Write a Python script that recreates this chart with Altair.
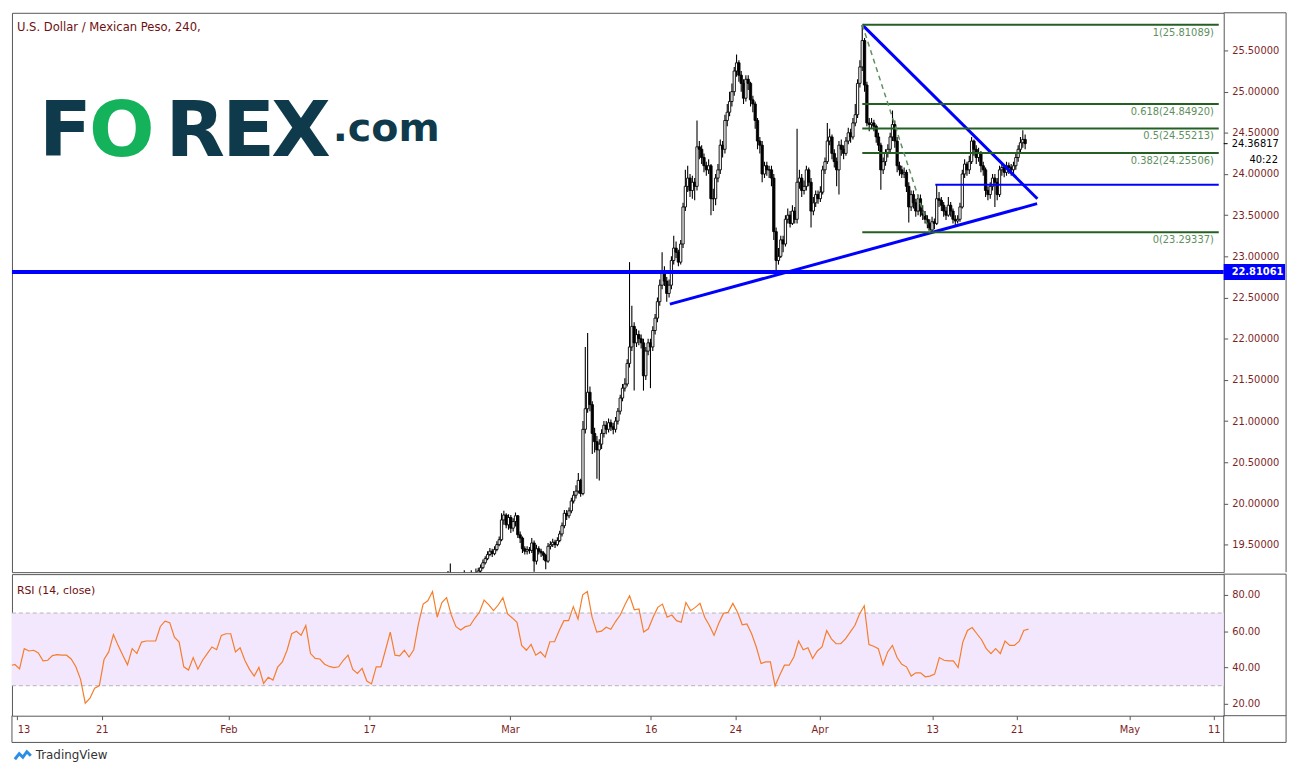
import altair as alt
import pandas as pd

# ---------------- data ----------------
# x unit = trading day, Jan 13 = 0 ; one candle = 4 hours = 1/6 day
first_bar_day = 29.5
bar_step_days = 1 / 6
first_open = 19.05
closes = [
    19.08, 19.05, 19.02, 19.06, 19.04, 19.08, 19.10, 19.06, 19.02, 19.05,
    19.03, 19.06, 19.08, 19.10, 19.06, 19.09, 19.12, 19.10, 19.14, 19.18,
    19.22, 19.28, 19.33, 19.38, 19.42, 19.39, 19.44, 19.50, 19.56, 19.80,
    19.86, 19.74, 19.83, 19.70, 19.78, 19.85, 19.62, 19.58, 19.45, 19.42,
    19.44, 19.43, 19.52, 19.30, 19.45, 19.42, 19.40, 19.37, 19.30, 19.48,
    19.50, 19.53, 19.50, 19.55, 19.63, 19.73, 19.88, 19.85, 19.91, 20.03,
    20.10, 20.15, 20.28, 20.12, 20.90, 21.15, 21.35, 21.20, 20.85, 20.75,
    20.65, 20.72, 20.85, 20.95, 20.90, 20.98, 20.93, 20.90, 21.00, 21.12,
    21.28, 21.40, 21.45, 21.70, 21.90, 22.15, 21.95, 22.05, 22.00, 21.95,
    21.55, 21.85, 21.95, 21.90, 22.10, 22.25, 22.45, 22.65, 22.80, 22.70,
    22.55, 22.65, 22.95, 23.10, 23.05, 22.93, 23.15, 23.60, 23.85, 23.95,
    23.80, 23.90, 23.85, 24.33, 24.30, 24.20, 24.10, 24.05, 24.10, 23.70,
    23.70, 23.95, 24.05, 24.35, 24.30, 24.65, 24.75, 24.88, 25.00, 25.25,
    25.35, 25.20, 25.10, 24.92, 25.15, 25.10, 24.90, 24.85, 24.65, 24.40,
    24.35, 24.00, 24.10, 24.05, 24.05, 23.95, 23.30, 22.95, 23.00, 23.20,
    23.15, 23.45, 23.50, 23.40, 23.55, 23.45, 23.90, 23.95, 23.80, 23.85,
    24.05, 23.90, 23.55, 23.65, 23.75, 23.70, 23.78, 24.05, 24.15, 24.40,
    24.45, 24.25, 24.15, 24.05, 24.35, 24.30, 24.25, 24.40, 24.50, 24.45,
    24.62, 24.72, 25.10, 25.30, 25.62, 25.08, 24.62, 24.60, 24.62, 24.58,
    24.45, 24.35, 24.05, 24.15, 24.25, 24.30, 24.45, 24.60, 24.40, 24.10,
    24.05, 24.00, 24.02, 23.85, 23.60, 23.75, 23.65, 23.55, 23.70, 23.55,
    23.50, 23.45, 23.40, 23.32, 23.42, 23.40, 23.70, 23.68, 23.62, 23.55,
    23.50, 23.62, 23.55, 23.45, 23.43, 23.45, 23.60, 24.00, 24.12, 24.05,
    24.15, 24.40, 24.30, 24.20, 24.25, 24.10, 24.05, 23.80, 23.75, 23.85,
    23.95, 23.90, 23.75, 24.05, 24.08, 24.02, 24.10, 24.08, 24.05, 24.10,
    24.20, 24.30, 24.38, 24.42, 24.36817,
]
highs = [
    19.12, 19.10, 19.08, 19.10, 19.09, 19.12, 19.18, 19.27, 19.09, 19.08,
    19.07, 19.10, 19.12, 19.19, 19.12, 19.13, 19.19, 19.15, 19.21, 19.22,
    19.26, 19.32, 19.36, 19.42, 19.46, 19.45, 19.48, 19.54, 19.60, 19.88,
    19.91, 19.88, 19.87, 19.86, 19.82, 19.89, 19.86, 19.66, 19.60, 19.48,
    19.48, 19.47, 19.58, 19.55, 19.50, 19.48, 19.45, 19.42, 19.39, 19.52,
    19.54, 19.57, 19.56, 19.59, 19.67, 19.77, 19.92, 19.92, 19.95, 20.07,
    20.15, 20.22, 20.37, 20.30, 21.00, 21.90, 22.07, 21.42, 21.24, 20.92,
    20.82, 20.78, 20.90, 21.00, 21.00, 21.03, 21.02, 20.98, 21.05, 21.16,
    21.32, 21.45, 21.52, 21.75, 22.93, 22.40, 22.20, 22.12, 22.10, 22.05,
    22.00, 21.90, 22.00, 22.00, 22.15, 22.30, 22.50, 22.72, 23.05, 22.88,
    22.75, 22.72, 23.00, 23.25, 23.18, 23.08, 23.20, 23.65, 24.05, 24.10,
    24.00, 23.98, 23.95, 24.65, 24.40, 24.35, 24.25, 24.15, 24.18, 24.12,
    23.82, 24.00, 24.12, 24.42, 24.40, 24.72, 24.85, 25.00, 25.10, 25.30,
    25.45, 25.38, 25.25, 25.15, 25.20, 25.20, 25.12, 24.95, 24.88, 24.68,
    24.45, 24.40, 24.15, 24.15, 24.10, 24.10, 24.00, 23.35, 23.10, 23.25,
    23.25, 23.50, 23.58, 23.55, 23.62, 23.60, 24.55, 24.05, 24.00, 23.92,
    24.10, 24.08, 23.95, 23.72, 23.80, 23.80, 23.85, 24.10, 24.20, 24.62,
    24.55, 24.48, 24.30, 24.20, 24.40, 24.42, 24.35, 24.45, 24.56, 24.55,
    24.68, 24.85, 25.15, 25.38, 25.81, 25.65, 25.12, 24.68, 24.68, 24.66,
    24.60, 24.50, 24.38, 24.20, 24.30, 24.36, 24.50, 24.77, 24.65, 24.45,
    24.15, 24.10, 24.08, 24.05, 23.90, 23.80, 23.80, 23.70, 23.75, 23.75,
    23.62, 23.55, 23.50, 23.45, 23.48, 23.46, 23.87, 23.78, 23.72, 23.66,
    23.60, 23.72, 23.66, 23.58, 23.50, 23.50, 23.65, 24.05, 24.18, 24.15,
    24.22, 24.45, 24.42, 24.35, 24.32, 24.28, 24.15, 24.08, 23.85, 23.90,
    24.00, 24.00, 23.95, 24.10, 24.14, 24.12, 24.15, 24.14, 24.12, 24.15,
    24.25, 24.35, 24.45, 24.53, 24.48,
]
lows = [
    19.02, 19.00, 18.98, 19.00, 19.00, 19.02, 19.05, 19.04, 18.98, 19.00,
    18.99, 19.01, 19.03, 19.05, 19.03, 19.04, 19.07, 19.06, 19.08, 19.12,
    19.15, 19.20, 19.26, 19.31, 19.36, 19.35, 19.37, 19.42, 19.48, 19.54,
    19.74, 19.70, 19.68, 19.64, 19.66, 19.72, 19.58, 19.52, 19.40, 19.38,
    19.38, 19.39, 19.40, 19.17, 19.26, 19.38, 19.35, 19.31, 19.20, 19.28,
    19.44, 19.47, 19.46, 19.48, 19.53, 19.60, 19.70, 19.80, 19.82, 19.88,
    20.00, 20.06, 20.12, 20.08, 20.10, 20.85, 21.10, 21.12, 20.60, 20.62,
    20.30, 20.28, 20.66, 20.80, 20.84, 20.86, 20.88, 20.84, 20.86, 20.96,
    21.08, 21.24, 21.36, 21.42, 21.65, 21.85, 21.37, 21.90, 21.92, 21.88,
    21.37, 21.50, 21.80, 21.40, 21.85, 22.05, 22.20, 22.40, 22.60, 22.64,
    22.45, 22.50, 22.60, 22.90, 22.98, 22.88, 22.90, 23.10, 23.55, 23.78,
    23.72, 23.70, 23.68, 23.80, 24.18, 24.12, 24.02, 23.98, 24.00, 23.50,
    23.55, 23.62, 23.90, 24.00, 24.20, 24.25, 24.58, 24.70, 24.82, 24.95,
    25.18, 25.12, 25.00, 24.85, 24.88, 25.02, 24.82, 24.75, 24.55, 24.30,
    24.25, 23.90, 23.95, 23.98, 23.95, 23.85, 23.20, 22.83, 22.90, 22.98,
    23.05, 23.12, 23.40, 23.35, 23.38, 23.40, 23.40, 23.82, 23.72, 23.75,
    23.80, 23.85, 23.35, 23.50, 23.60, 23.64, 23.66, 23.75, 24.00, 24.12,
    24.35, 24.18, 24.08, 23.85, 23.75, 24.22, 24.18, 24.22, 24.36, 24.38,
    24.42, 24.58, 24.68, 25.05, 25.25, 25.00, 24.58, 24.52, 24.55, 24.52,
    24.38, 24.28, 23.81, 24.00, 24.10, 24.20, 24.25, 24.40, 24.32, 24.02,
    23.98, 23.95, 23.95, 23.78, 23.41, 23.55, 23.58, 23.48, 23.50, 23.48,
    23.44, 23.40, 23.34, 23.29, 23.30, 23.33, 23.38, 23.60, 23.55, 23.48,
    23.44, 23.48, 23.48, 23.40, 23.38, 23.40, 23.42, 23.58, 23.95, 23.98,
    24.00, 24.12, 24.22, 24.12, 24.15, 24.02, 23.98, 23.72, 23.68, 23.70,
    23.80, 23.60, 23.68, 23.72, 23.98, 23.96, 23.98, 24.00, 23.98, 24.00,
    24.05, 24.15, 24.25, 24.32, 24.30,
]

# RSI(14, close), one reading every 8 hours
rsi_first_day = -0.5
rsi_step_days = 1 / 3
rsi_values = [
    41.0, 41.7, 39.3, 50.4, 49.1, 49.5, 48.0, 43.7, 44.0, 46.6,
    47.1, 46.8, 46.8, 44.7, 40.4, 33.5, 20.4, 23.1, 28.6, 29.9,
    44.4, 48.6, 58.2, 52.2, 46.8, 41.5, 50.4, 47.7, 54.0, 54.6,
    54.6, 54.6, 62.6, 65.5, 64.7, 56.7, 54.0, 40.4, 38.6, 45.5,
    39.1, 44.0, 47.7, 51.3, 49.8, 57.7, 58.6, 58.6, 48.6, 50.9,
    44.0, 39.0, 35.3, 40.1, 31.3, 34.6, 33.1, 40.2, 43.1, 49.5,
    58.6, 60.0, 57.7, 63.1, 47.7, 45.0, 44.7, 41.8, 40.6, 40.0,
    40.4, 44.0, 46.8, 39.0, 36.8, 39.5, 32.6, 31.0, 40.4, 40.4,
    49.8, 59.5, 46.8, 46.4, 49.5, 45.8, 49.8, 64.0, 74.9, 76.7,
    81.8, 67.7, 75.8, 78.5, 68.9, 62.5, 60.7, 62.5, 63.1, 67.1,
    70.4, 77.1, 74.5, 71.3, 74.4, 78.5, 69.5, 67.3, 64.9, 52.2,
    49.5, 52.7, 46.8, 48.6, 45.7, 54.2, 54.2, 60.4, 65.8, 65.8,
    73.5, 66.7, 80.0, 81.8, 67.7, 59.5, 60.0, 62.2, 61.1, 65.3,
    68.9, 74.5, 79.5, 71.8, 72.2, 59.5, 61.3, 67.7, 73.1, 74.9,
    67.7, 68.9, 65.8, 64.9, 75.8, 71.3, 73.1, 75.3, 67.7, 63.1,
    57.7, 64.4, 69.8, 70.4, 75.3, 70.4, 63.5, 64.0, 58.6, 51.3,
    42.2, 43.1, 43.1, 29.9, 35.9, 41.3, 41.3, 45.8, 54.6, 49.8,
    50.9, 45.0, 49.1, 51.3, 60.4, 55.8, 53.1, 53.1, 55.8, 59.5,
    63.1, 69.5, 74.0, 52.7, 51.7, 50.4, 41.5, 48.6, 52.2, 45.5,
    41.8, 40.4, 35.3, 37.1, 37.1, 34.9, 35.3, 36.4, 45.5, 44.0,
    43.7, 43.7, 40.0, 54.0, 60.4, 62.0, 58.6, 55.3, 50.4, 47.7,
    50.4, 47.7, 54.6, 52.2, 52.2, 54.4, 60.4, 61.1,
]

tick_days = [0, 6, 15, 25, 35, 45, 51, 57, 65, 71, 79, 85]
tick_labels = ["13", "21", "Feb", "17", "Mar", "16", "24", "Apr", "13", "21", "May", "11"]
price_ticks = [19.5, 20.0, 20.5, 21.0, 21.5, 22.0, 22.5, 23.0, 23.5, 24.0, 24.5, 25.0, 25.5]
rsi_ticks = [20, 40, 60, 80]
rsi_band = [30, 70]

support_price = 22.81061
fib_names = ["1", "0.618", "0.5", "0.382", "0"]
fib_prices = [25.81089, 24.84920, 24.55213, 24.25506, 23.29337]
fib_days = [60.17, 85.7]
swing_days = [60.17, 65.0]
swing_prices = [25.81089, 23.29337]
falling_days = [60.17, 72.71]
falling_prices = [25.81089, 23.70]
rising_days = [46.39, 72.69]
rising_prices = [22.42, 23.64]
range_days = [65.4, 85.7]
range_price = 23.869
last_price = closes[-1]
countdown = "40:22"

# ---------------- styling / layout ----------------
W, HP, HR, AXH, RW = 1224, 565, 143, 27, 63
X_DOM = [-0.373, 85.7]
YP_DOM = [19.166, 25.957]
YR_DOM = [13.5, 91.4]
FONT = "DejaVu Sans"
MAROON = "#7d1f1f"
FRAME = "#555555"
BLUE = "#0000ff"
FIB = "#246024"
FIB_TEXT = "#5e8f5e"
RSI_COLOR = "#f57d2c"
BAND = "#f3e7fd"

xs = alt.Scale(domain=X_DOM, nice=False, zero=False)
yps = alt.Scale(domain=YP_DOM, nice=False, zero=False)
yrs = alt.Scale(domain=YR_DOM, nice=False, zero=False)

n = len(closes)
candles = pd.DataFrame({
    "day": [first_bar_day + i * bar_step_days for i in range(n)],
    "open": [first_open] + closes[:-1],
    "high": highs,
    "low": lows,
    "close": closes,
})
rsi_df = pd.DataFrame({
    "day": [rsi_first_day + i * rsi_step_days for i in range(len(rsi_values))],
    "rsi": rsi_values,
})
trend_df = pd.DataFrame({
    "line": ["falling", "falling", "rising", "rising"],
    "day": falling_days + rising_days,
    "price": falling_prices + rising_prices,
})
swing_df = pd.DataFrame({"day": swing_days, "price": swing_prices})
fib_df = pd.DataFrame({
    "price": fib_prices,
    "start": [fib_days[0]] * len(fib_prices),
    "end": [fib_days[1]] * len(fib_prices),
    "label": [f"{nm}({p:.5f})" for nm, p in zip(fib_names, fib_prices)],
})
range_df = pd.DataFrame({"start": [range_days[0]], "end": [range_days[1]], "price": [range_price]})
one = pd.DataFrame({"one": [1]})

price_axis = alt.Axis(orient="right", values=price_ticks, format=".5f", domain=False, grid=False,
                      tickSize=4, tickColor=FRAME, labelColor=MAROON, labelFontSize=10,
                      labelPadding=4, title=None, labelOverlap=False, labelFont=FONT)


def py(field):
    return alt.Y(field, scale=yps, axis=price_axis, title=None)


def px(field):
    return alt.X(field, scale=xs, axis=None, title=None)


wicks = alt.Chart(candles).mark_rule(color="black", strokeWidth=1.1, clip=True).encode(
    x=px("day:Q"), y=py("low:Q"), y2="high:Q")
bodies = alt.Chart(candles).mark_bar(size=2.3, stroke="black", strokeWidth=0.9, clip=True).encode(
    x=px("day:Q"), y=py("open:Q"), y2="close:Q",
    fill=alt.condition("datum.close >= datum.open", alt.value("white"), alt.value("black")),
)
sup_df = pd.DataFrame({"price": [support_price]})
support = alt.Chart(sup_df).mark_rule(color=BLUE, strokeWidth=4).encode(
    y=py("price:Q"), x=alt.value(0), x2=alt.value(W))
support_box = alt.Chart(sup_df).mark_rule(color=BLUE, strokeWidth=16).encode(
    y=py("price:Q"), x=alt.value(W), x2=alt.value(W + 62))
support_txt = alt.Chart(sup_df).mark_text(
    align="left", baseline="middle", color="white", fontSize=10, fontWeight="bold", font=FONT).encode(
    y=py("price:Q"), x=alt.value(W + 8), text=alt.value(f"{support_price:.5f}"))
trends = alt.Chart(trend_df).mark_line(color=BLUE, strokeWidth=3, clip=True).encode(
    x=px("day:Q"), y=py("price:Q"), detail="line:N")
range_line = alt.Chart(range_df).mark_rule(color=BLUE, strokeWidth=2).encode(
    x=px("start:Q"), x2="end:Q", y=py("price:Q"))
fib_lines = alt.Chart(fib_df).mark_rule(color=FIB, strokeWidth=2).encode(
    x=px("start:Q"), x2="end:Q", y=py("price:Q"))
fib_text = alt.Chart(fib_df).mark_text(align="right", baseline="middle", dy=8, fontSize=10,
                                       color=FIB_TEXT, font=FONT).encode(
    x=alt.value(W - 10), y=py("price:Q"), text="label:N")
swing = alt.Chart(swing_df).mark_line(color="#5f8f5f", strokeWidth=1.5, strokeDash=[5, 4]).encode(
    x=px("day:Q"), y=py("price:Q"))
last_df = pd.DataFrame({"price": [last_price]})
last_bg = alt.Chart(last_df).mark_rule(color="white", strokeWidth=13).encode(
    y=py("price:Q"), x=alt.value(W + 5), x2=alt.value(W + 62))
last_tick = alt.Chart(last_df).mark_rule(color="black", strokeWidth=1).encode(
    y=py("price:Q"), x=alt.value(W), x2=alt.value(W + 4))
last_txt = alt.Chart(last_df).mark_text(align="left", baseline="middle", fontSize=10, color="black", font=FONT).encode(
    y=py("price:Q"), x=alt.value(W + 8), text=alt.value(f"{last_price:.5f}"))
count_txt = alt.Chart(last_df).mark_text(align="left", baseline="middle", dy=17, fontSize=10, color="black", font=FONT).encode(
    y=py("price:Q"), x=alt.value(W + 26), text=alt.value(countdown))

title_txt = alt.Chart(one).mark_text(align="left", baseline="middle", fontSize=11.7, color="#6e1010", font=FONT).encode(
    x=alt.value(5), y=alt.value(14), text=alt.value("U.S. Dollar / Mexican Peso, 240,"))

logo_parts = [("F", 54, "#0e3a4c"), ("O", 111, "#14b25a"), ("R", 185, "#0e3a4c"),
              ("E", 239, "#0e3a4c"), ("X", 292, "#0e3a4c")]
logo_layers = [
    alt.Chart(one).mark_text(align="center", baseline="alphabetic", fontSize=78, fontWeight="bold",
                             color=c, font=FONT).encode(x=alt.value(xp), y=alt.value(145), text=alt.value(t))
    for t, xp, c in logo_parts
]
logo_layers.append(
    alt.Chart(one).mark_text(align="center", baseline="alphabetic", fontSize=40, fontWeight="bold",
                             color="#0e3a4c", font=FONT).encode(x=alt.value(378), y=alt.value(129), text=alt.value(".com")))

frame_p = [
    alt.Chart(one).mark_rule(color=FRAME, strokeWidth=1).encode(x=alt.value(W), x2=alt.value(W + RW), y=alt.value(0)),
    alt.Chart(one).mark_rule(color=FRAME, strokeWidth=1).encode(x=alt.value(W + RW), y=alt.value(0), y2=alt.value(HP)),
]

price_panel = alt.layer(
    wicks, bodies, support, trends, range_line, fib_lines, swing, fib_text,
    support_box, support_txt, last_bg, last_tick, last_txt, count_txt, title_txt, *logo_layers, *frame_p
).properties(width=W, height=HP)

# ---------------- RSI panel ----------------
label_expr = " : ".join(f"datum.value == {d} ? '{l}'" for d, l in zip(tick_days, tick_labels)) + " : ''"
x_axis = alt.Axis(orient="bottom", values=tick_days, labelExpr=label_expr, domain=False, grid=False,
                  tickSize=4, tickColor=FRAME, labelColor=MAROON, labelFontSize=10, labelPadding=5,
                  title=None, labelFlush=6, labelOverlap=False, labelFont=FONT)
rsi_axis = alt.Axis(orient="right", values=rsi_ticks, format=".2f", domain=False, grid=False,
                    tickSize=4, tickColor=FRAME, labelColor=MAROON, labelFontSize=10, labelPadding=4,
                    title=None, labelOverlap=False, labelFont=FONT)


def ry(field):
    return alt.Y(field, scale=yrs, axis=rsi_axis, title=None)


band = alt.Chart(pd.DataFrame({"lo": [rsi_band[0]], "hi": [rsi_band[1]]})).mark_rect(color=BAND).encode(
    x=alt.value(0), x2=alt.value(W), y=ry("hi:Q"), y2="lo:Q")
band_lines = alt.Chart(pd.DataFrame({"level": rsi_band})).mark_rule(
    color="#b4b4b4", strokeDash=[4, 3], strokeWidth=1).encode(
    y=ry("level:Q"), x=alt.value(0), x2=alt.value(W))
rsi_line = alt.Chart(rsi_df).mark_line(color=RSI_COLOR, strokeWidth=1.2, clip=True).encode(
    x=alt.X("day:Q", scale=xs, axis=x_axis, title=None), y=ry("rsi:Q"))
rsi_title = alt.Chart(one).mark_text(align="left", baseline="middle", fontSize=11, color="#6e1010", font=FONT).encode(
    x=alt.value(5), y=alt.value(17), text=alt.value("RSI (14, close)"))
frame_r = [
    alt.Chart(one).mark_rule(color=FRAME, strokeWidth=1).encode(x=alt.value(W), x2=alt.value(W + RW), y=alt.value(0)),
    alt.Chart(one).mark_rule(color=FRAME, strokeWidth=1).encode(x=alt.value(W), x2=alt.value(W + RW), y=alt.value(HR)),
    alt.Chart(one).mark_rule(color=FRAME, strokeWidth=1).encode(x=alt.value(0), x2=alt.value(W + RW), y=alt.value(HR + AXH)),
    alt.Chart(one).mark_rule(color=FRAME, strokeWidth=1).encode(x=alt.value(0), y=alt.value(HR), y2=alt.value(HR + AXH)),
    alt.Chart(one).mark_rule(color=FRAME, strokeWidth=1).encode(x=alt.value(W), y=alt.value(HR), y2=alt.value(HR + AXH)),
    alt.Chart(one).mark_rule(color=FRAME, strokeWidth=1).encode(x=alt.value(W + RW), y=alt.value(0), y2=alt.value(HR + AXH)),
]
tv_icon = alt.Chart(one).mark_point(
    shape="M-1,0.5 L-0.45,-0.2 L0,0.25 L0.5,-0.45 L1,0.05",
    size=260, filled=False, strokeWidth=3, color="#2a8ee6", opacity=1).encode(x=alt.value(11), y=alt.value(183))
tv_text = alt.Chart(one).mark_text(align="left", baseline="middle", fontSize=12, color="#333333", font=FONT).encode(
    x=alt.value(24), y=alt.value(183), text=alt.value("TradingView"))

rsi_panel = alt.layer(band, band_lines, rsi_line, rsi_title, *frame_r, tv_icon, tv_text).properties(width=W, height=HR)

chart = alt.vconcat(price_panel, rsi_panel, spacing=0).properties(
    padding=0, background="white"
).configure_view(stroke=FRAME, strokeWidth=1)

chart.save("out.html", embed_options={"renderer": "svg", "actions": False})
